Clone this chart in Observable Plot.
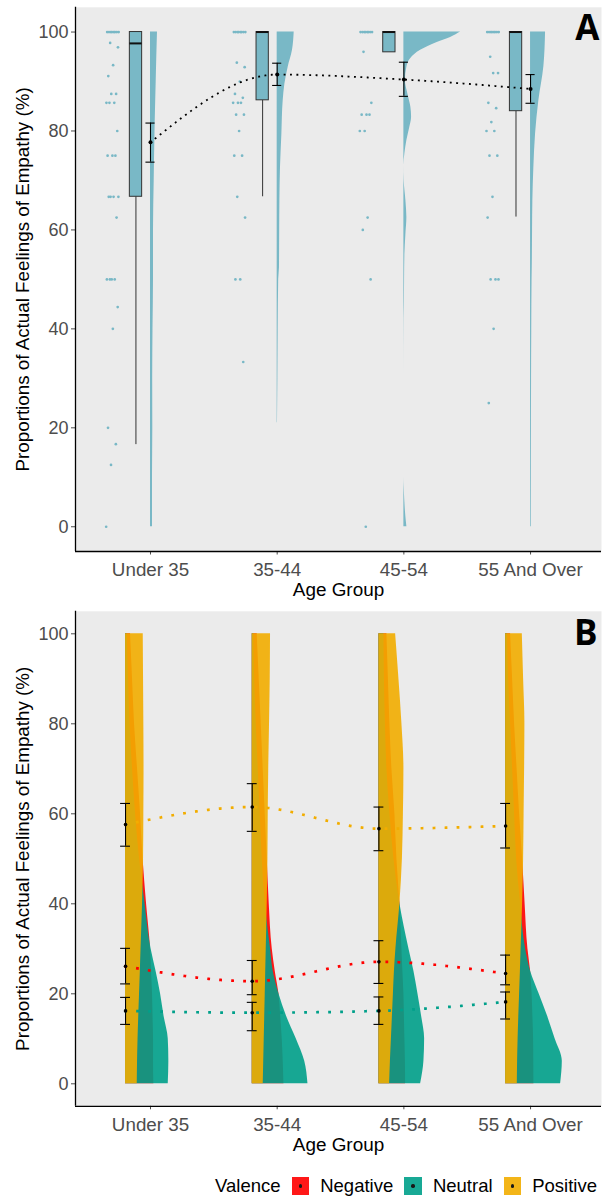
<!DOCTYPE html>
<html><head><meta charset="utf-8">
<script src="https://cdn.jsdelivr.net/npm/d3@7"></script>
<script src="https://cdn.jsdelivr.net/npm/@observablehq/plot@0.6"></script>
<style>
body{margin:0;background:#fff;font-family:"Liberation Sans",Arial,sans-serif;}
#chart{width:602px;}
#chart svg{display:block;}
.legend{display:flex;align-items:center;justify-content:flex-end;height:36px;padding-right:5px;box-sizing:border-box;width:602px;font-size:18.5px;color:#000;padding-top:16px;}
.legend .key{width:17.7px;height:17.7px;margin:0 11px;position:relative;display:inline-block;}
.legend .key::after{content:"";position:absolute;left:50%;top:50%;width:3.4px;height:3.4px;margin:-1.7px 0 0 -1.7px;border-radius:50%;background:#000;}
</style></head><body><div id="chart"></div><script>
const ageGroups = ["Under 35", "35-44", "45-54", "55 And Over"];
const yTicks = [0, 20, 40, 60, 80, 100];

// ---------- Panel A: raw responses ----------
const rawUnder35 = [100,100,100,100,100,100,100,100,97.8,96.9,93.3,91.1,87.5,87.5,85.7,85.7,85.7,80,75,75,75,66.7,66.7,66.7,66.7,62.5,50,50,50,50,44.4,40,20,16.7,12.5,0];
const raw35to44 = [100,100,100,100,100,100,100,100,93.8,92.9,90,87.5,86.7,85.7,85.7,85.7,83.3,83.3,80,75,75,66.7,62.5,50,50,33.3];
const raw45to54 = [100,100,100,100,100,100,100,100,96,85.7,83.3,83.3,83.3,80,80,62.5,60,50,0];
const raw55plus = [100,100,100,100,100,100,100,100,95,91.7,91.7,85.7,84.6,81.8,80,80,75,75,66.7,62.5,50,50,50,40,25];

// Panel A box statistics
const boxQ1 = [66.7, 86.2, 95.9, 84.0];
const boxMedian = [97.7, 100, 100, 100];
const boxQ3 = [100, 100, 100, 100];
const whiskerLow = [16.6, 66.7, 95.9, 62.6];
// Panel A means and error bars
const meanA = [77.7, 91.4, 90.4, 88.5];
const lowA = [73.7, 89.2, 87.0, 85.6];
const highA = [81.6, 93.7, 93.9, 91.4];

// Panel A density profiles (value, relative density)
const densU35Y = [0,10,20,30,40,50,60,70,80,90,95,100];
const densU35 = [2,2,2.3,2.2,2.5,3,3,3.7,4.5,5.7,6.3,7];
const dens3544Y = [21,30,40,50,52.4,60,65.9,72.6,79.4,86.1,89.5,92.9,96.3,100];
const dens3544 = [0.3,0.7,1,1.5,2.3,2.5,2.7,3.3,4.7,6,7.7,11,15.3,17];
const dens4554Y = [0,2,5,8,10,20,30,42,45,50,55,59,62.5,66,70,73,75.4,78.1,80.8,82.8,84.8,87.5,90.2,92.9,94.6,96.3,97.9,98.9,100];
const dens4554 = [3,2,1,0.3,0,0,0,0.2,0.5,0.7,1,2,3,2,0.3,0,1,3,6,7.7,7,4,1.5,3,6.7,16.7,33.3,46.7,56.7];
const dens55Y = [0,10,20,30,40,50,52.4,60,65.9,72.6,79.4,86.1,93,100];
const dens55 = [0.7,0.8,0.9,1,1.2,1.5,1.7,2,2.3,3.3,5,8.3,13.3,15];

// ---------- Panel B ----------
const valences = ["Negative", "Neutral", "Positive"];
const valenceColors = ["#FF0000", "#00A08A", "#F2AD00"];
const meanNeg = [26.1, 22.8, 27.1, 24.5];
const lowNeg = [22.2, 19.8, 22.3, 22.0];
const highNeg = [30.1, 27.4, 31.8, 28.6];
const meanNeu = [16.2, 15.8, 16.2, 18.2];
const lowNeu = [13.2, 11.8, 13.2, 14.4];
const highNeu = [19.2, 18.1, 19.3, 20.4];
const meanPos = [57.6, 61.5, 56.7, 57.3];
const lowPos = [52.8, 56.1, 51.8, 52.4];
const highPos = [62.3, 66.7, 61.5, 62.3];

const gridB = [0,5,10,15,20,25,30,40,50,60,70,80,90,100];
const densNeg = [
  [28.3,28,28,27.5,27,26,25,21,17.5,15,12,9,7,5],
  [31.7,31,30,28.5,26.7,23,20,17,15,13,11,9,7,5],
  [26.7,26.5,26,25.5,25,24,23,21,18,16,13,11,9.5,8],
  [28.3,28.2,28,27.3,26.5,25,22.3,19.5,17,14,11.5,9,7,5]
];
const densNeu = [
  [42.7,43.3,42.7,38.5,35,30.5,25.5,19.5,14,10,7,4.5,3,1.7],
  [55.7,52.5,44,34.3,26.7,21,18.3,13,10,8,6,4,2.5,1.5],
  [41.7,45,45.7,42.7,39,35,30,21,15,11,8,6.5,5.5,5],
  [55,56.7,49.5,42,33.5,25,20,15,11,9,7,5,3,2]
];
const densPos = [
  [11.7,12,12.5,13.2,14,14.8,15.5,17,18,18.3,18.5,18.3,18,17.7],
  [11,11.5,12,12.5,13,13.5,14,15,15.7,16,16.5,17.3,18,18.3],
  [10.7,11.5,12.5,13.5,14.5,15.5,17,21,23.5,24.5,25,23,20,16.7],
  [11.7,12,12.5,13.2,14,14.8,15.5,17,18,18.5,19,19.3,18,16.7]
];

// ---------- build tables ----------
const pxPerUnit = 126.67;
const blue = "#79B8C6";
const jit = i => ((i * 0.6180339887 + 0.37) % 1) - 0.5;
const rawA = [rawUnder35, raw35to44, raw45to54, raw55plus]
  .flatMap((vals, g) => vals.map((v, i) => ({g, v, i})));
const statsA = ageGroups.map((name, g) => ({g, q1: boxQ1[g], med: boxMedian[g], q3: boxQ3[g], lo: whiskerLow[g], mean: meanA[g], elo: lowA[g], ehi: highA[g]}));
const violinA = [[densU35Y, densU35], [dens3544Y, dens3544], [dens4554Y, dens4554], [dens55Y, dens55]]
  .flatMap(([ys, ws], g) => ys.map((y, j) => ({g, y, w: ws[j]})));

const fontFam = "'Liberation Sans', Arial, sans-serif";
const xDomain = [0.408, 4.56];
const yTitle = "Proportions of Actual Feelings of Empathy (%)";

function axes() {
  return [
    Plot.axisX({ticks: [1,2,3,4], tickFormat: d => ageGroups[d-1], tickSize: 3.5, tickPadding: 8, fontSize: 18.8, color: "#4D4D4D", label: null}),
    Plot.axisY({ticks: yTicks, tickSize: 4, tickPadding: 3, fontSize: 18, color: "#4D4D4D", label: null}),
    Plot.ruleX([xDomain[0]], {stroke: "#000", strokeWidth: 1.3}),
    Plot.ruleY([-5], {stroke: "#000", strokeWidth: 1.3}),
    Plot.text([0], {frameAnchor: "bottom", dy: 44.5, text: () => "Age Group", fontSize: 18.9, fill: "#000"}),
    Plot.text([0], {frameAnchor: "left", dx: -52.5, rotate: -90, textAnchor: "middle", text: () => yTitle, fontSize: 18.8, fill: "#000"})
  ];
}

const plotA = Plot.plot({
  width: 602, height: 600,
  marginLeft: 75, marginRight: 1, marginTop: 6.8, marginBottom: 49,
  style: {fontFamily: fontFam, background: "transparent", overflow: "visible"},
  x: {domain: xDomain, axis: null},
  y: {domain: [-5, 105], axis: null},
  marks: [
    Plot.frame({fill: "#EBEBEB", stroke: "none"}),
    Plot.areaX(violinA, {y: "y", x1: d => d.g + 1, x2: d => d.g + 1 + d.w / pxPerUnit, z: "g", fill: blue, curve: "monotone-y"}),
    Plot.dot(rawA, {x: d => d.g + 1 - 0.3 + jit(d.i) * 0.1, y: "v", r: 1.35, fill: blue, stroke: "none"}),
    Plot.ruleX(statsA, {x: d => d.g + 1 - 0.115, y1: "lo", y2: "q1", stroke: "#333", strokeWidth: 1}),
    Plot.rect(statsA, {x1: d => d.g + 1 - 0.163, x2: d => d.g + 1 - 0.066, y1: "q1", y2: "q3", fill: blue, stroke: "#333", strokeWidth: 1}),
    Plot.ruleY(statsA, {y: "med", x1: d => d.g + 1 - 0.163, x2: d => d.g + 1 - 0.066, stroke: "#111", strokeWidth: 2}),
    Plot.line(statsA, {x: d => d.g + 1, y: "mean", curve: "monotone-x", stroke: "#000", strokeWidth: 1.8, strokeDasharray: "0.1,6.3", strokeLinecap: "square"}),
    Plot.ruleX(statsA, {x: d => d.g + 1, y1: "elo", y2: "ehi", stroke: "#000", strokeWidth: 1.1}),
    Plot.ruleY(statsA, {y: "elo", x1: d => d.g + 1 - 0.036, x2: d => d.g + 1 + 0.036, stroke: "#000", strokeWidth: 1.1}),
    Plot.ruleY(statsA, {y: "ehi", x1: d => d.g + 1 - 0.036, x2: d => d.g + 1 + 0.036, stroke: "#000", strokeWidth: 1.1}),
    Plot.dot(statsA, {x: d => d.g + 1, y: "mean", r: 2, fill: "#000", stroke: "none"}),
    ...axes(),
    Plot.text([0], {frameAnchor: "top-right", dx: -2, dy: 8.2, lineAnchor: "top", text: () => "A", fontSize: 35, fontWeight: "bold", fontFamily: "'Open Sans', sans-serif", fill: "#000"})
  ]
});

// Panel B tables
const offB = -0.197;
const meansB = [
  [meanNeg, lowNeg, highNeg],
  [meanNeu, lowNeu, highNeu],
  [meanPos, lowPos, highPos]
].flatMap(([m, lo, hi], k) => ageGroups.map((name, g) => ({g, k, mean: m[g], lo: lo[g], hi: hi[g]})));
const densB = [densNeg, densNeu, densPos];
const violinB = densB.map((groups, k) => groups.flatMap((ws, g) => gridB.map((y, j) => ({g, k, y, w: ws[j]}))));

const plotB = Plot.plot({
  width: 602, height: 560,
  marginLeft: 75, marginRight: 1, marginTop: 10.8, marginBottom: 54.2,
  style: {fontFamily: fontFam, background: "transparent", overflow: "visible"},
  x: {domain: xDomain, axis: null},
  y: {domain: [-5, 105], axis: null},
  marks: [
    Plot.frame({fill: "#EBEBEB", stroke: "none"}),
    ...violinB.map((rows, k) => Plot.areaX(rows, {y: "y", x1: d => d.g + 1 + offB, x2: d => d.g + 1 + offB + d.w / pxPerUnit, z: "g", fill: valenceColors[k], fillOpacity: 0.9, curve: "monotone-y"})),
    ...valences.map((v, k) => Plot.line(meansB.filter(d => d.k === k), {x: d => d.g + 1 + offB, y: "mean", curve: "monotone-x", stroke: valenceColors[k], strokeWidth: 2.7, strokeDasharray: "0.1,11.9", strokeLinecap: "square"})),
    Plot.ruleX(meansB, {x: d => d.g + 1 + offB, y1: "lo", y2: "hi", stroke: "#000", strokeWidth: 1.1}),
    Plot.ruleY(meansB, {y: "lo", x1: d => d.g + 1 + offB - 0.039, x2: d => d.g + 1 + offB + 0.039, stroke: "#000", strokeWidth: 1.1}),
    Plot.ruleY(meansB, {y: "hi", x1: d => d.g + 1 + offB - 0.039, x2: d => d.g + 1 + offB + 0.039, stroke: "#000", strokeWidth: 1.1}),
    Plot.dot(meansB, {x: d => d.g + 1 + offB, y: "mean", r: 1.8, fill: "#000", stroke: "none"}),
    ...axes(),
    Plot.text([0], {frameAnchor: "top-right", dx: -4, dy: 9, lineAnchor: "top", text: () => "B", fontSize: 35, fontWeight: "bold", fontFamily: "'Open Sans', sans-serif", fill: "#000"})
  ]
});

const chart = document.getElementById("chart");
chart.appendChild(plotA);
chart.appendChild(plotB);

// legend
const legend = document.createElement("div");
legend.className = "legend";
const title = document.createElement("span");
title.textContent = "Valence";
legend.appendChild(title);
valences.forEach((v, k) => {
  const key = document.createElement("span");
  key.className = "key";
  key.style.background = valenceColors[k];
  key.style.opacity = 0.9;
  legend.appendChild(key);
  const lab = document.createElement("span");
  lab.textContent = v;
  legend.appendChild(lab);
});
chart.appendChild(legend);
</script></body></html>
